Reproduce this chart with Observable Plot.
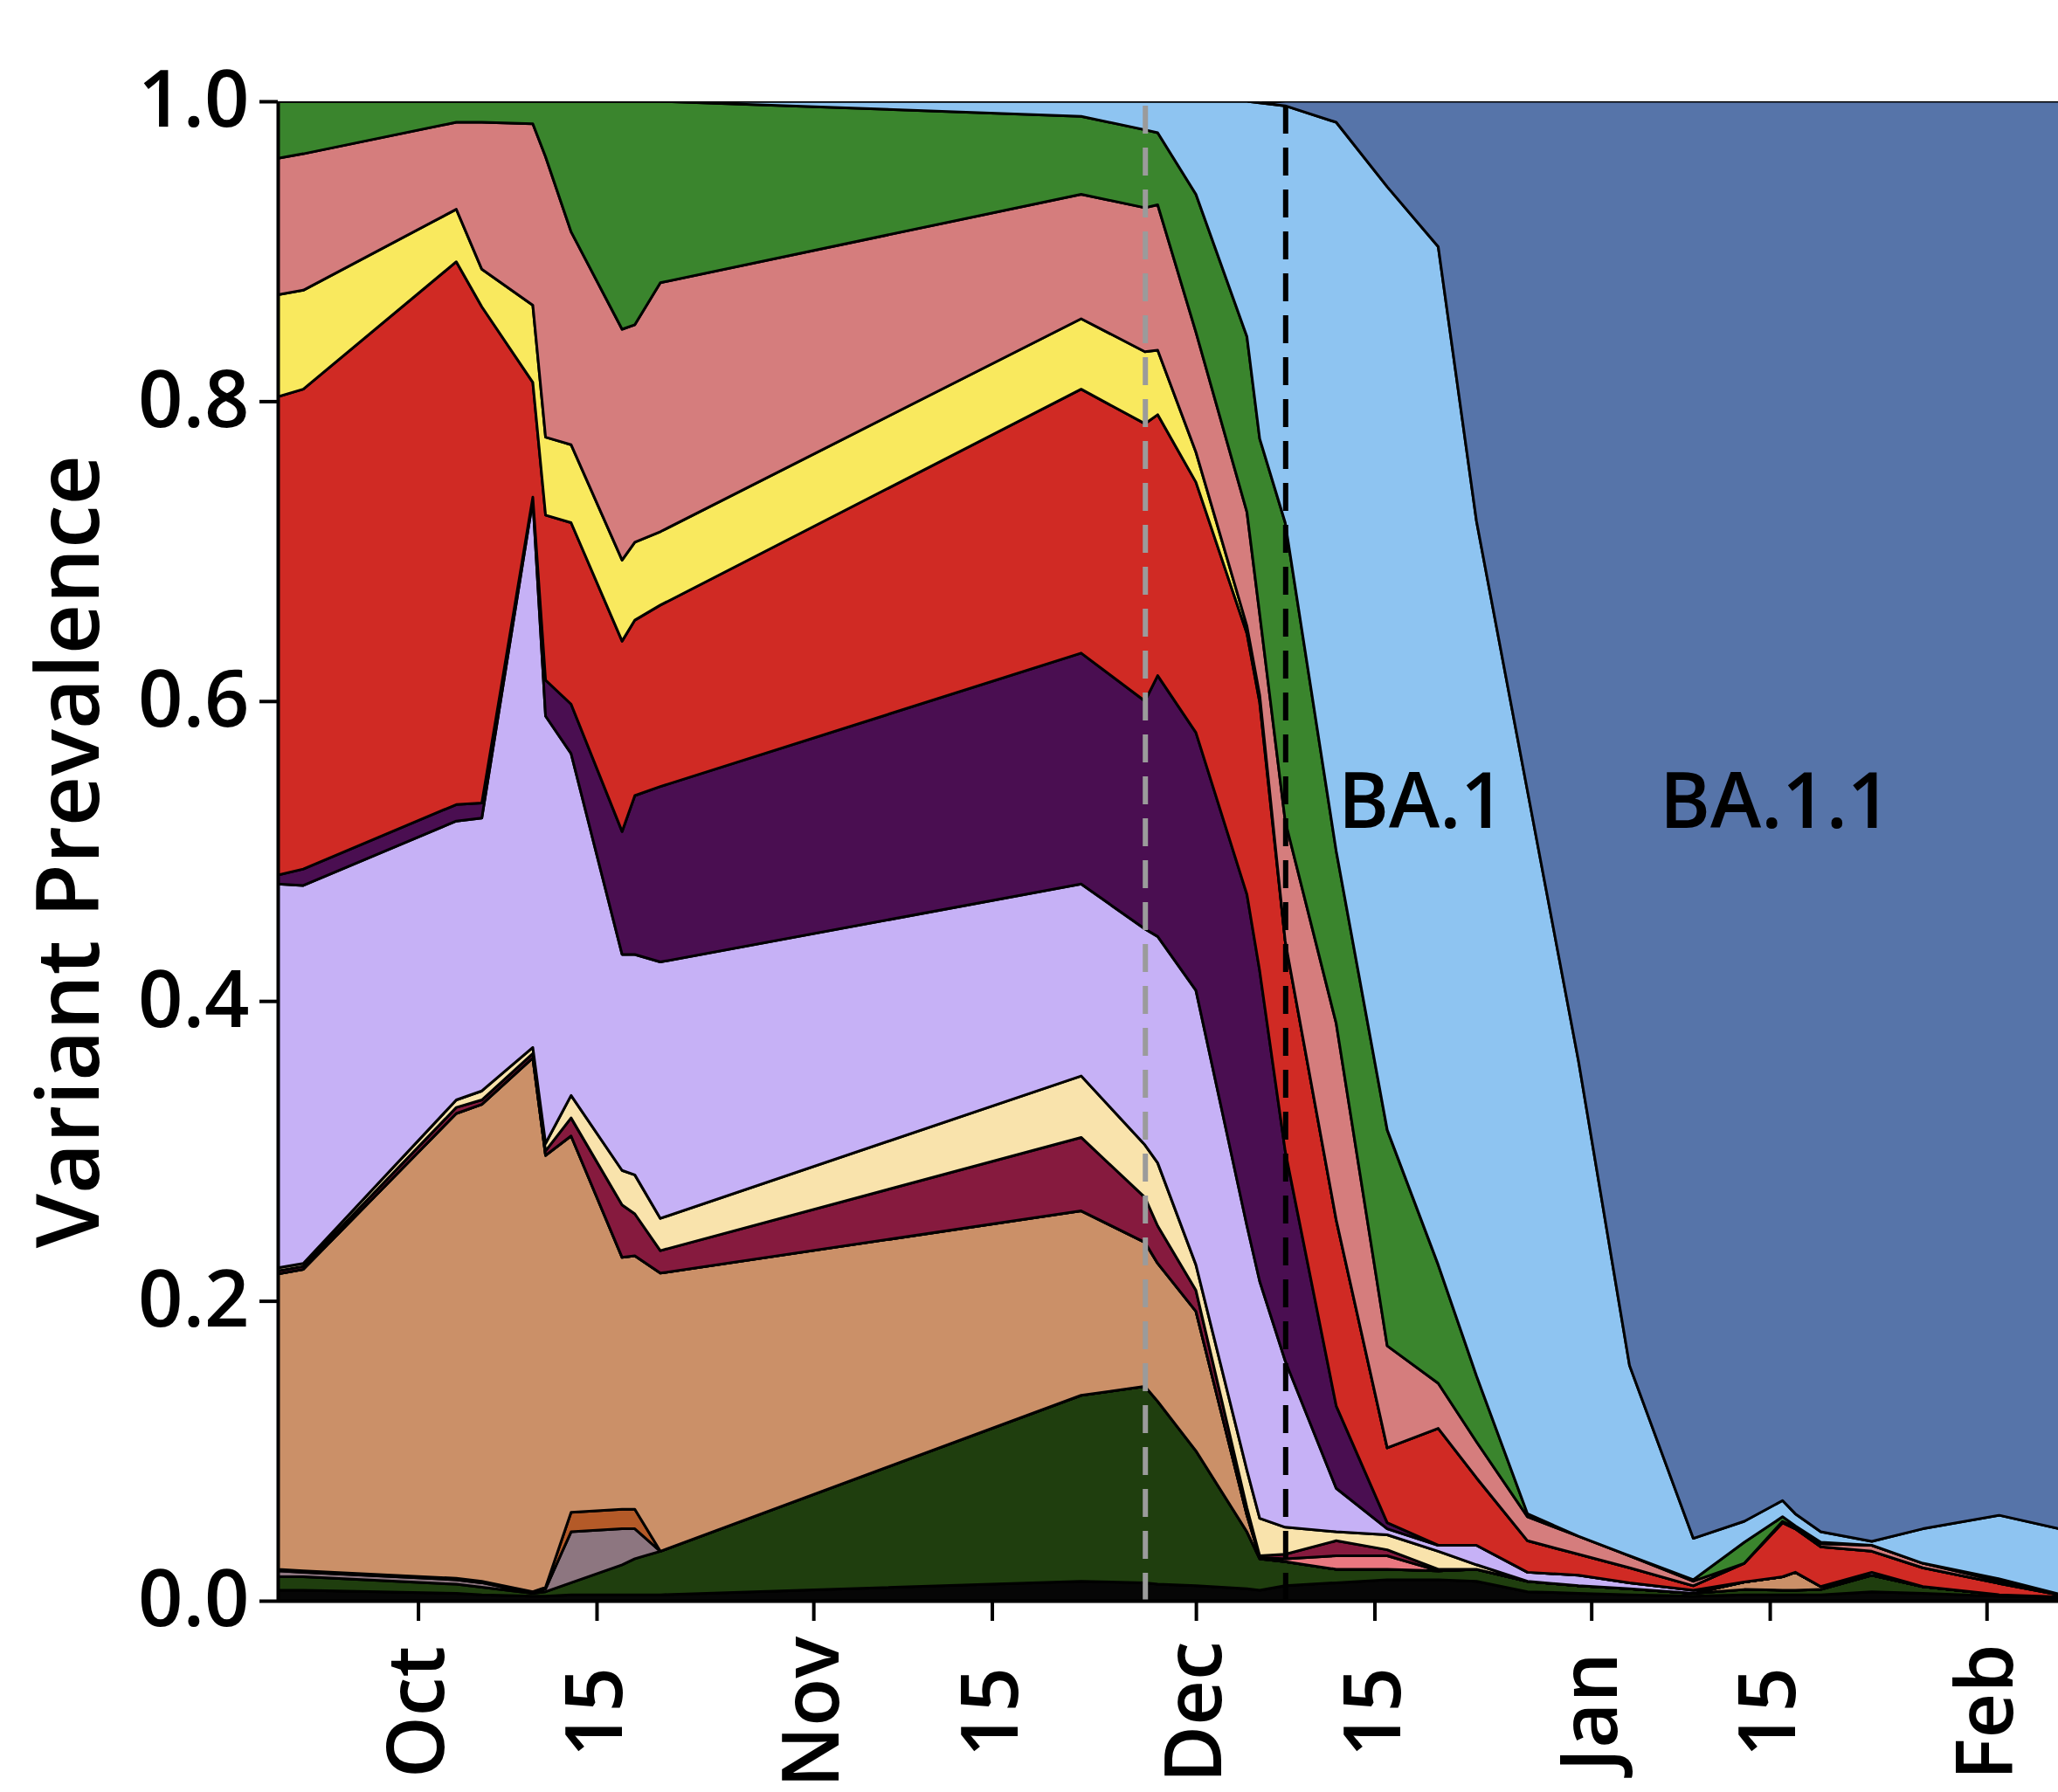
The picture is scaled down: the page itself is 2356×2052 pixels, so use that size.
<!DOCTYPE html>
<html>
<head>
<meta charset="utf-8">
<script src="https://cdn.jsdelivr.net/npm/d3@7"></script>
<script src="https://cdn.jsdelivr.net/npm/@observablehq/plot@0.6"></script>
<style>
  html, body { margin: 0; padding: 0; background: #ffffff; }
  #chart svg { display: block; }
</style>
</head>
<body>
<div id="chart"></div>
<script>
// ---- Data (shares of sequenced samples) ----
const dates = ["2021-09-20","2021-09-22","2021-10-04","2021-10-06","2021-10-10","2021-10-11","2021-10-13","2021-10-17","2021-10-18","2021-10-20","2021-11-22","2021-11-27","2021-11-28","2021-12-01","2021-12-05","2021-12-06","2021-12-08","2021-12-12","2021-12-16","2021-12-20","2021-12-23","2021-12-27","2021-12-31","2022-01-04","2022-01-09","2022-01-13","2022-01-16","2022-01-17","2022-01-19","2022-01-23","2022-01-27","2022-02-02","2022-02-07"];

// series, listed from the bottom of the stack to the top
const lineage1  = [0.007,0.007,0.005,0.004,0.003,0.003,0.004,0.004,0.004,0.004,0.013,0.012,0.011,0.010,0.008,0.007,0.010,0.012,0.014,0.014,0.013,0.006,0.005,0.004,0.003,0.004,0.004,0.004,0.004,0.006,0.005,0.003,0.002];
const lineage2  = [0.009,0.009,0.006,0.005,0.002,0.003,0.008,0.020,0.024,0.029,0.124,0.131,0.122,0.090,0.038,0.021,0.016,0.009,0.007,0.006,0.008,0.007,0.005,0.004,0.002,0.0035,0.003,0.003,0.0035,0.011,0.0045,0.001,0.0005];
const lineage3  = [0.004,0.003,0.003,0.003,0,0.002,0.034,0.024,0.020,0,0,0,0,0,0,0,0,0,0,0,0,0,0,0,0,0,0,0,0,0,0,0,0];
const lineage4  = [0.001,0.001,0.001,0.001,0.001,0.001,0.013,0.013,0.013,0,0,0,0,0,0,0,0,0,0,0,0,0,0,0,0,0,0,0,0,0,0,0,0];
const lineage5  = [0.197,0.201,0.310,0.318,0.356,0.288,0.251,0.168,0.169,0.1855,0.123,0.096,0.092,0.093,0.011,0.001,0,0,0,0,0,0,0,0,0,0.005,0.009,0.012,0.002,0,0,0,0];
const lineage6  = [0,0,0,0,0,0,0,0,0,0,0,0,0,0,0,0,0.002,0.009,0.009,0,0,0,0,0,0,0,0,0,0,0,0,0,0];
const lineage7  = [0.002,0.002,0.004,0.003,0.003,0.003,0.012,0.035,0.028,0.015,0.049,0.030,0.025,0.014,0.005,0.001,0.003,0.010,0.004,0.001,0,0,0,0,0,0,0,0,0,0,0,0,0];
const lineage8  = [0.002,0.002,0.005,0.006,0.004,0.005,0.015,0.023,0.026,0.0215,0.041,0.035,0.042,0.017,0.025,0.025,0.018,0.006,0.010,0.012,0.003,0,0,0,0,0,0,0,0,0,0,0,0];
const lineage9  = [0.256,0.252,0.186,0.182,0.365,0.285,0.228,0.144,0.147,0.171,0.128,0.144,0.151,0.183,0.163,0.158,0.111,0.029,0.004,0.004,0.013,0.006,0.007,0.004,0.002,0,0,0,0,0.002,0,0,0];
const lineage10 = [0.006,0.011,0.011,0.010,0.002,0.024,0.033,0.082,0.106,0.117,0.154,0.152,0.174,0.172,0.221,0.207,0.140,0.055,0.004,0,0,0,0,0,0,0,0,0,0,0,0,0,0];
const lineage11 = [0.319,0.320,0.362,0.331,0.0765,0.110,0.121,0.127,0.117,0.121,0.176,0.185,0.174,0.167,0.174,0.179,0.140,0.124,0.050,0.078,0.045,0.021,0.014,0.010,0.003,0.0125,0.036,0.029,0.0265,0.014,0.0125,0.0075,0.001];
const lineage12 = [0.068,0.066,0.035,0.025,0.0515,0.052,0.052,0.054,0.052,0.049,0.047,0.048,0.043,0.020,0.005,0.005,0,0,0,0,0,0,0,0,0,0,0,0,0,0,0,0,0];
const lineage13 = [0.091,0.091,0.058,0.098,0.121,0.187,0.142,0.154,0.145,0.166,0.083,0.096,0.097,0.080,0.076,0.054,0.080,0.131,0.068,0.030,0.024,0.016,0.012,0.008,0.003,0,0.001,0.001,0.002,0.004,0.003,0.0015,0.0002];
const lineage14 = [0.038,0.035,0.014,0.014,0.015,0.037,0.087,0.152,0.149,0.121,0.052,0.052,0.048,0.092,0.117,0.117,0.199,0.115,0.144,0.079,0.044,0.002,0,0,0.001,0.014,0.003,0.001,0.001,0,0,0.0016,0];
const ba1       = [0,0,0,0,0,0,0,0,0,0,0.010,0.019,0.021,0.062,0.157,0.224,0.278,0.486,0.629,0.679,0.570,0.482,0.317,0.127,0.0276,0.014,0.0108,0.008,0.007,0.0026,0.023,0.0424,0.0437];
const ba11      = [0,0,0,0,0,0,0,0,0,0,0,0,0,0,0,0,0.003,0.014,0.057,0.097,0.280,0.460,0.640,0.843,0.9584,0.947,0.9332,0.942,0.954,0.9604,0.952,0.943,0.9526];

const seriesNames = ["Lineage 1","Lineage 2","Lineage 3","Lineage 4","Lineage 5","Lineage 6","Lineage 7","Lineage 8","Lineage 9","Lineage 10","Lineage 11","Lineage 12","Lineage 13","Lineage 14","BA.1","BA.1.1"];
const seriesValues = [lineage1,lineage2,lineage3,lineage4,lineage5,lineage6,lineage7,lineage8,lineage9,lineage10,lineage11,lineage12,lineage13,lineage14,ba1,ba11];

// vertical reference dates
const markerDates = ["2021-11-27","2021-12-08"];

// axis ticks
const yTicks = [0, 0.2, 0.4, 0.6, 0.8, 1.0];
const xTickDates = ["2021-10-01","2021-10-15","2021-11-01","2021-11-15","2021-12-01","2021-12-15","2022-01-01","2022-01-15","2022-02-01"];
const xTickLabels = ["Oct","15","Nov","15","Dec","15","Jan","15","Feb"];

// in-chart labels
const labelNames = ["BA.1","BA.1.1"];
const labelDates = ["2021-12-12T03:00:00Z","2022-01-06T08:00:00Z"];
const labelValues = [0.532, 0.532];

// ---- Styling ----
const palette = ["#060606","#1f3e0e","#8d7680","#b45a28","#cb9068","#ea7880","#861a3e","#f9e3ac","#c6b1f6","#4a0e51","#d02a24","#f9e95e","#d57d7d","#3a852d","#8ec4f1","#5674a9"];

const rows = [];
seriesNames.forEach((name, k) => {
  seriesValues[k].forEach((v, i) => rows.push({ variant: name, date: new Date(dates[i]), value: v }));
});

const xStart = new Date("2021-09-20T00:00:00Z");
const xEnd = new Date(xStart.getTime() + 139.6 * 86400000);
const xTicks = xTickDates.map(d => new Date(d));

const chart = Plot.plot({
  width: 2356,
  height: 2052,
  marginLeft: 318,
  marginRight: 0,
  marginTop: 116,
  marginBottom: 219,
  style: { fontFamily: "'Open Sans', sans-serif", fontSize: "92px", fontWeight: 600, color: "#000", background: "#fff" },
  x: { type: "utc", domain: [xStart, xEnd], axis: null },
  y: { domain: [0, 1], axis: null },
  color: { domain: seriesNames, range: palette },
  marks: [
    Plot.areaY(rows, {
      x: "date", y: "value", z: "variant", fill: "variant", order: seriesNames,
      stroke: "#000", strokeWidth: 3, strokeLinejoin: "round", clip: true
    }),
    Plot.ruleX([new Date(markerDates[0])], { y1: 0, y2: 1, stroke: "#9b9b9b", strokeWidth: 6, strokeDasharray: "32,16" }),
    Plot.ruleX([new Date(markerDates[1])], { y1: 0, y2: 1, stroke: "#000", strokeWidth: 6, strokeDasharray: "32,16" }),
    Plot.ruleY([0], { stroke: "#000", strokeWidth: 4 }),
    Plot.ruleX([xStart], { y1: 0, y2: 1, stroke: "#000", strokeWidth: 4 }),
    Plot.axisY({ ticks: yTicks, tickFormat: d3.format(".1f"), tickSize: 21, tickPadding: 12, strokeWidth: 4, fontSize: 90, fontWeight: 600, label: null }),
    Plot.axisX({ ticks: xTicks, tickSize: 23, strokeWidth: 4, tickFormat: () => "", label: null }),
    Plot.text(xTicks, {
      x: d => d, text: (d, i) => xTickLabels[i], frameAnchor: "bottom",
      dy: 127, rotate: -90, textAnchor: "middle", lineAnchor: "middle", fontSize: 90, fontWeight: 600
    }),
    Plot.text(["Variant Prevalence"], {
      frameAnchor: "left", dx: -238, rotate: -90, textAnchor: "middle", lineAnchor: "middle", fontSize: 100, fontWeight: 600
    }),
    Plot.text(labelNames, {
      x: (d, i) => new Date(labelDates[i]), y: (d, i) => labelValues[i], text: d => d,
      textAnchor: "start", lineAnchor: "middle", fontSize: 88, fontWeight: 600
    })
  ]
});

document.getElementById("chart").appendChild(chart);
</script>
</body>
</html>
